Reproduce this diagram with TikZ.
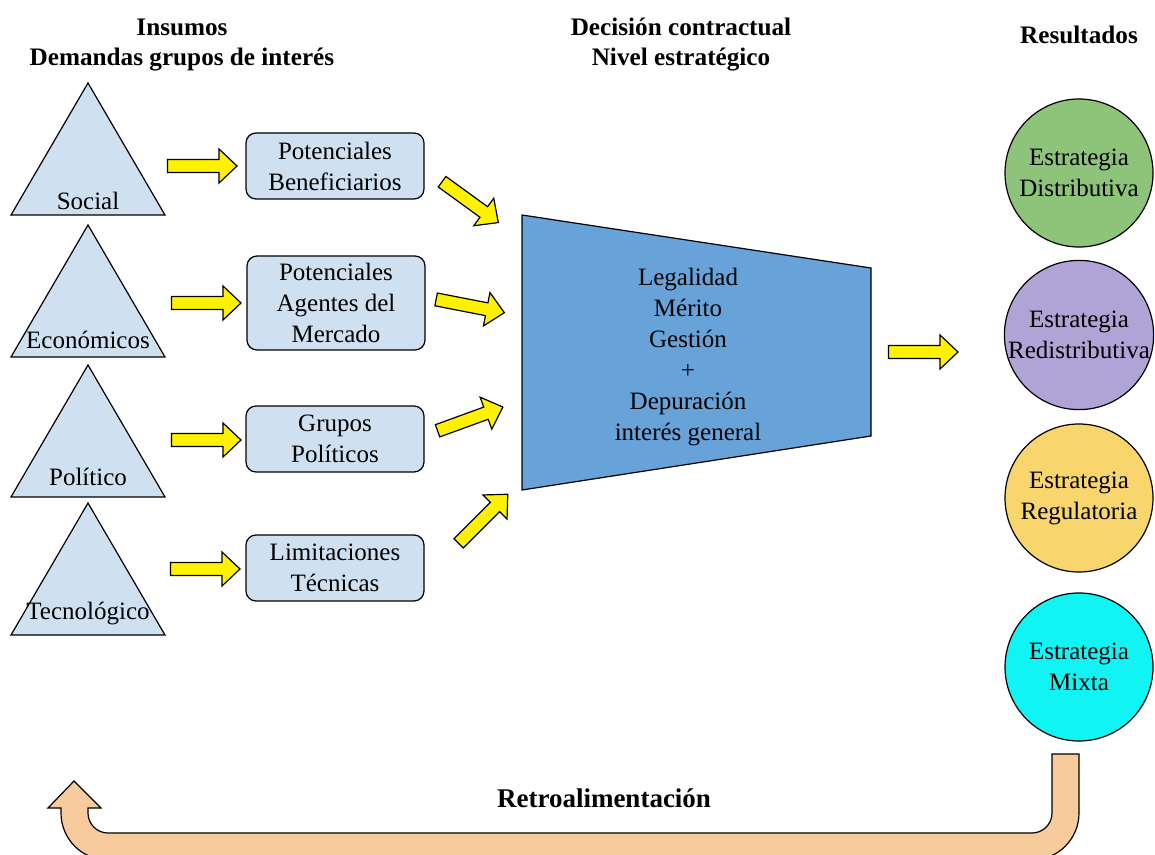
\documentclass[tikz,border=0pt]{standalone}
\usepackage{fontspec}
\setmainfont{Liberation Serif}
\usepackage{tikz}
\definecolor{insumo}{HTML}{CFE0F1}
\definecolor{decision}{HTML}{67A3D9}
\definecolor{distrib}{HTML}{8EC479}
\definecolor{redist}{HTML}{B0A3D5}
\definecolor{regul}{HTML}{F9D56E}
\definecolor{mixta}{HTML}{10F4F4}
\definecolor{retro}{HTML}{F8CB9D}
% block arrow: centre, angle
\newcommand{\fatarrow}[2]{\draw[fat, shift={(#1)}, rotate=#2] (-34.5,-6.5) -- (17,-6.5)
  -- (17,-17) -- (35,0) -- (17,17) -- (17,6.5) -- (-34.5,6.5) -- cycle;}

\begin{document}
\begin{tikzpicture}[x=0.5pt, y=-0.5pt, line width=0.6pt,
    every node/.style={font=\fontsize{12.5}{15.5}\selectfont, align=center},
    titulo/.style={font=\fontsize{12.6}{15}\selectfont\bfseries},
    tri/.style={draw, fill=insumo},
    caja/.style={draw, fill=insumo, rounded corners=5pt, minimum width=89pt,
      minimum height=33pt, inner sep=2pt},
    fat/.style={draw, fill=yellow},
    estrategia/.style={draw, circle, minimum size=74pt, inner sep=0pt}]
  \useasboundingbox (0,0) rectangle (1155,855);
  % titles
  \node[titulo] (insumos) at (182,45) {Insumos\\Demandas grupos de interés};
  \node[titulo] (nivel) at (681,45) {Decisión contractual\\Nivel estratégico};
  \node[titulo] (resultados) at (1079,35) {Resultados};
  % inputs
  \foreach \ap/\ly/\lab/\nm in {83/201/Social/social, 225/340/Económicos/economico,
      365/477/Político/politico, 503/614/Tecnológico/tecno}{
    \draw[tri] (11,\ap+132) -- (88,\ap) -- (165,\ap+132) -- cycle;
    \node (\nm) at (88,\ly) {\lab};}
  \node[caja] (benef) at (335,166) {Potenciales\\Beneficiarios};
  \node[caja, minimum height=47pt] (agentes) at (336,303) {Potenciales\\Agentes del\\Mercado};
  \node[caja] (grupos) at (335,439) {Grupos\\Políticos};
  \node[caja] (limit) at (335,568) {Limitaciones\\Técnicas};
  \fatarrow{202,166}{0} \fatarrow{206,303}{0} \fatarrow{206,440}{0} \fatarrow{205,569}{0}
  \fatarrow{470,202}{-36} \fatarrow{470,306}{-11} \fatarrow{470,419}{20} \fatarrow{483,519}{45}
  % decision
  \draw[fill=decision] (522,215) -- (871,268) -- (871,436) -- (522,490) -- cycle;
  \node (criterios) at (688,357) {Legalidad\\Mérito\\Gestión\\+\\Depuración\\interés general};
  \fatarrow{923,352}{0}
  % results
  \node[estrategia, fill=distrib] (distrib) at (1079,173) {Estrategia\\Distributiva};
  \node[estrategia, fill=redist] (redist) at (1079,335) {Estrategia\\Redistributiva};
  \node[estrategia, fill=regul] (regul) at (1079,498) {Estrategia\\Regulatoria};
  \node[estrategia, fill=mixta] (mixta) at (1079,667) {Estrategia\\Mixta};
  % feedback
  \draw[fill=retro] (1052,754) -- (1079,754) -- (1079,813) arc[start angle=0, end angle=90, radius=47]
    -- (108,860) arc[start angle=90, end angle=180, radius=47] -- (61,808) -- (48,808)
    -- (74,781) -- (101,808) -- (88,808) -- (88,813) arc[start angle=180, end angle=90, radius=20]
    -- (1032,833) arc[start angle=90, end angle=0, radius=20] -- cycle;
  \node[font=\fontsize{13.5}{16}\selectfont\bfseries] (retroalim) at (604,798) {Retroalimentación};
\end{tikzpicture}
\end{document}
